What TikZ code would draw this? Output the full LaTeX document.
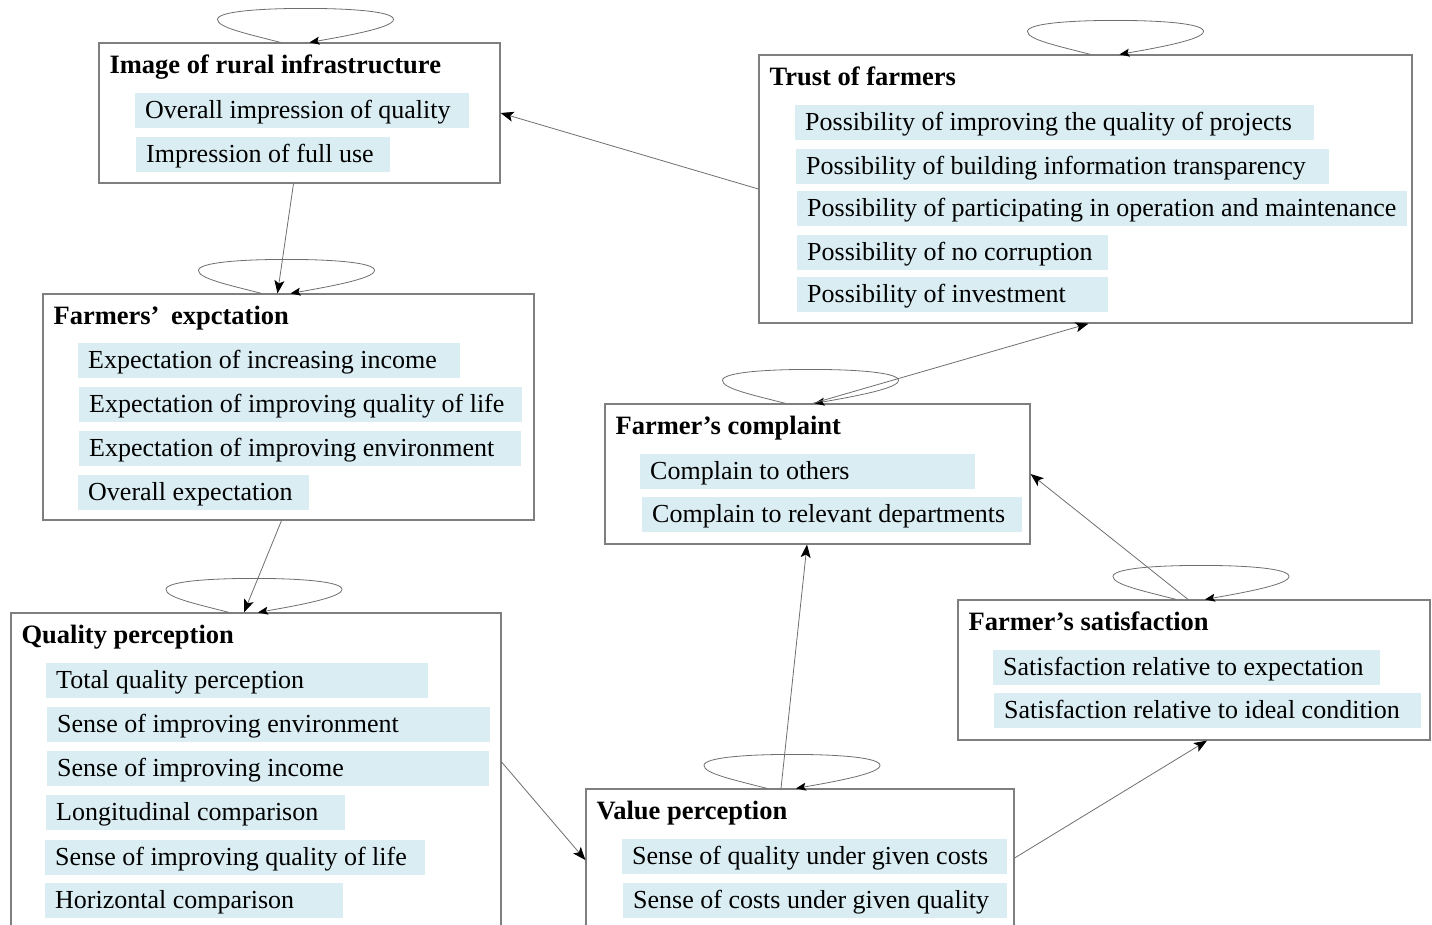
\documentclass[tikz,border=0pt]{standalone}
\usepackage{fontspec}
\setmainfont{Liberation Serif}
\usetikzlibrary{arrows.meta,calc,positioning}
\definecolor{itemblue}{HTML}{DAEDF3}
\definecolor{boxgray}{HTML}{7F7F7F}
\definecolor{linegray}{HTML}{6E6E6E}
\newcommand{\boxfont}{\fontsize{26}{30}\selectfont}
\newcommand{\titlefont}{\fontsize{26.5}{30}\selectfont\bfseries}
\tikzset{
	block/.style={draw=boxgray,line width=1.2pt,inner sep=0},
	title/.style={anchor=base west,inner sep=0,font=\titlefont},
	item/.style={anchor=west,fill=itemblue,inner xsep=10pt,inner ysep=5.5pt,text height=20pt,text depth=4pt,align=left,text width=#1,font=\boxfont,
		execute at begin node={\spaceskip=0pt\relax\xspaceskip=0pt\relax}},
	diredge/.style={-{Stealth[length=13pt,width=10pt,inset=3pt,color=black]},draw=linegray,line width=0.8pt},
	loopedge/.style={-{Stealth[length=10pt,width=8pt,inset=2pt,color=black]},draw=linegray,line width=0.8pt}
}
% loop above a block: #1 node, #2 shift of the loop centre
\newcommand{\selfloop}[2]{%
	\draw[loopedge] ($(#1.north)+(#2-25,0)$) .. controls ($(#1.north)+(#2-60,-9)$) and ($(#1.north)+(#2-88,-15)$) .. ($(#1.north)+(#2-88,-23)$)
	.. controls ($(#1.north)+(#2-88,-31)$) and ($(#1.north)+(#2-45,-34)$) .. ($(#1.north)+(#2,-34)$)
	.. controls ($(#1.north)+(#2+45,-34)$) and ($(#1.north)+(#2+88,-31)$) .. ($(#1.north)+(#2+88,-23)$)
	.. controls ($(#1.north)+(#2+88,-15)$) and ($(#1.north)+(#2+44,-7)$) .. ($(#1.north)+(#2+4,0)$);}
\begin{document}
\begin{tikzpicture}[x=1pt,y=-1pt]
	\useasboundingbox (0,0) rectangle (1432,924);
	\clip (0,0) rectangle (1432,924);
	
	%%% Image of rural infrastructure
	\node[block,minimum width=401pt,minimum height=140pt] (img) at (299.5,113) {};
	\node[title] (imgT) at ($(img.north west)+(11,31)$) {Image of rural infrastructure};
	\node[item=314pt] (imgA) at (135,110.5) {Overall impression of quality};
	\node[item=234pt] (imgB) at (136,154.5) {Impression of full use};
	
	%%% Trust of farmers
	\node[block,minimum width=653pt,minimum height=268pt] (trust) at (1085.5,189) {};
	\node[title] (trustT) at ($(trust.north west)+(11,31)$) {Trust of farmers};
	\node[item=499pt] (trustA) at (795,122.5) {Possibility of improving the quality of projects};
	\node[item=513pt] (trustB) at (796,166.5) {Possibility of building information transparency};
	\node[item=590pt] (trustC) at (797,208.5) {Possibility of participating in operation and maintenance};
	\node[item=291pt] (trustD) at (797,252.5) {Possibility of no corruption};
	\node[item=291pt] (trustE) at (797,294.5) {Possibility of investment};
	
	%%% Farmers' expectation
	\node[block,minimum width=491pt,minimum height=226pt] (expect) at (288.5,407) {};
	\node[title] (expectT) at ($(expect.north west)+(11,31)$) {Farmers’\hspace{5pt} expctation};
	\node[item=362pt] (expectA) at (78,360.5) {Expectation of increasing income};
	\node[item=423pt] (expectB) at (79,404.5) {Expectation of improving quality of life};
	\node[item=422pt] (expectC) at (79,448.5) {Expectation of improving environment};
	\node[item=211pt] (expectD) at (78,492.5) {Overall expectation};
	
	%%% Farmer's complaint
	\node[block,minimum width=425pt,minimum height=140pt] (compl) at (817.5,474) {};
	\node[title] (complT) at ($(compl.north west)+(11,31)$) {Farmer’s complaint};
	\node[item=315pt] (complA) at (640,471.5) {Complain to others};
	\node[item=360pt] (complB) at (642,514.5) {Complain to relevant departments};
	
	%%% Quality perception
	\node[block,minimum width=490pt,minimum height=327pt] (qual) at (256,776.5) {};
	\node[title] (qualT) at ($(qual.north west)+(11,31)$) {Quality perception};
	\node[item=362pt] (qualA) at (46,680) {Total quality perception};
	\node[item=423pt] (qualB) at (47,724) {Sense of improving environment};
	\node[item=422pt] (qualC) at (47,768) {Sense of improving income};
	\node[item=279pt] (qualD) at (46,812.5) {Longitudinal comparison};
	\node[item=360pt] (qualE) at (45,857) {Sense of improving quality of life};
	\node[item=278pt] (qualF) at (45,900.5) {Horizontal comparison};
	
	%%% Farmer's satisfaction
	\node[block,minimum width=472pt,minimum height=140pt] (satis) at (1194,670) {};
	\node[title] (satisT) at ($(satis.north west)+(11,31)$) {Farmer’s satisfaction};
	\node[item=367pt] (satisA) at (993,667) {Satisfaction relative to expectation};
	\node[item=407pt] (satisB) at (994,710) {Satisfaction relative to ideal condition};
	
	%%% Value perception
	\node[block,minimum width=428pt,minimum height=151pt] (value) at (800,864.5) {};
	\node[title] (valueT) at ($(value.north west)+(11,31)$) {Value perception};
	\node[item=365pt] (valueA) at (622,856.5) {Sense of quality under given costs};
	\node[item=364pt] (valueB) at (623,900) {Sense of costs under given quality};
	
	%%% loops
	\selfloop{img}{6}
	\selfloop{expect}{-2}
	\selfloop{trust}{30}
	\selfloop{compl}{-7}
	\selfloop{qual}{-2}
	\selfloop{satis}{7}
	\selfloop{value}{-8}
	
	%%% paths between blocks
	\draw[diredge] (trust.west) -- (img.east);
	\draw[diredge] ($(img.south)+(-6,0)$) -- ($(expect.north)+(-11,0)$);
	\draw[diredge] ($(expect.south)+(-7,0)$) -- ($(qual.north)+(-12,0)$);
	\draw[diredge] ($(qual.east)+(0,-14.5)$) -- ($(value.west)+(0,-4.5)$);
	\draw[diredge] ($(value.north)+(-19,0)$) -- ($(compl.south)+(-10.5,0)$);
	\draw[diredge] ($(value.east)+(0,-6.5)$) -- ($(satis.south)+(13,0)$);
	\draw[diredge] ($(satis.north)+(-6,0)$) -- (compl.east);
	\draw[diredge] ($(compl.north)+(-5,0)$) -- ($(trust.south)+(3,0)$);
	
\end{tikzpicture}
\end{document}
